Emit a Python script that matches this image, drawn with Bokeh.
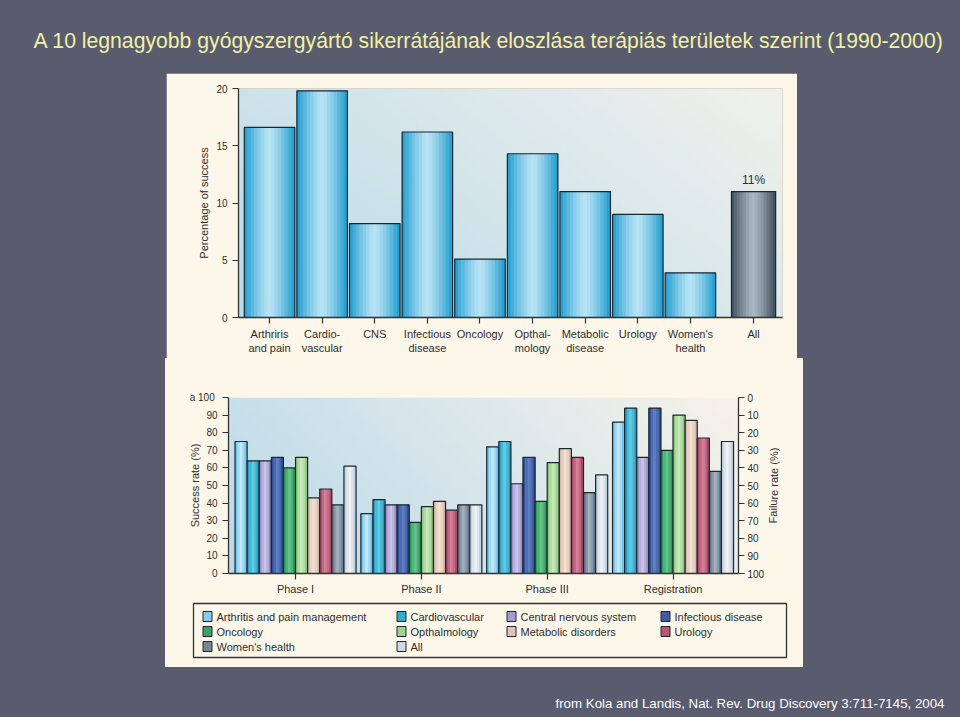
import numpy as np
from bokeh.plotting import figure
from bokeh.layouts import row, column
from bokeh.models import Range1d, LinearAxis, FixedTicker
from bokeh.embed import file_html
from bokeh.resources import INLINE
from bokeh.core.properties import value

# ---------------- data ----------------
title_text = "A 10 legnagyobb gyógyszergyártó sikerrátájának eloszlása terápiás területek szerint  (1990-2000)"
source_text = "from Kola and Landis, Nat. Rev. Drug Discovery 3:711-7145, 2004"

areas = ["Arthriris\nand pain", "Cardio-\nvascular", "CNS", "Infectious\ndisease", "Oncology",
         "Opthal-\nmology", "Metabolic\ndisease", "Urology", "Women's\nhealth", "All"]
success_pct = [16.6, 19.8, 8.2, 16.2, 5.1, 14.3, 11.0, 9.0, 3.9, 11.0]
all_label = "11%"
top_yticks = [0, 5, 10, 15, 20]

phases = ["Phase I", "Phase II", "Phase III", "Registration"]
series = ["Arthritis and pain management", "Cardiovascular", "Central nervous system",
          "Infectious disease", "Oncology", "Opthalmology", "Metabolic disorders",
          "Urology", "Women's health", "All"]
phase1 = [75, 64, 64, 66, 60, 66, 43, 48, 39, 61]
phase2 = [34, 42, 39, 39, 29, 38, 41, 36, 39, 39]
phase3 = [72, 75, 51, 66, 41, 63, 71, 66, 46, 56]
registration = [86, 94, 66, 94, 70, 90, 87, 77, 58, 75]
rate_ticks = [0, 10, 20, 30, 40, 50, 60, 70, 80, 90, 100]
panel_letter = "a"
failure_label = "Failure rate (%)"

# ---------------- style ----------------
SLATE = "#595c6e"
CREAM = "#fdf7ea"
FONT = "Liberation Sans"
TXT = "#2e2e2e"
OUT = "#1c2630"

series_edge = ["#58b6df", "#1191b6", "#877cbc", "#22418a", "#18894e",
               "#7dbf6e", "#d2ad9c", "#9e3858", "#546678", "#b6c6d6"]
series_center = ["#c4e8f7", "#62cbe2", "#cbc4e8", "#5e7dc3", "#62c486",
                 "#c8eab8", "#f3e0d4", "#d57e96", "#a0b0be", "#eef2f6"]


def hx(c):
    return tuple(int(c[i:i + 2], 16) for i in (1, 3, 5))


def mix(a, b, t):
    ra, rb = hx(a), hx(b)
    return "#%02x%02x%02x" % tuple(int(round(ra[i] + (rb[i] - ra[i]) * t)) for i in range(3))


def grad_img(c_left, c_right, nx=64, ny=32, diag=0.3):
    X, Y = np.meshgrid(np.linspace(0, 1, nx), np.linspace(0, 1, ny))
    t = np.clip((1 - diag) * X + diag * Y, 0, 1)[..., None]
    c1 = np.array(hx(c_left), dtype=float)
    c2 = np.array(hx(c_right), dtype=float)
    rgb = c1 * (1 - t) + c2 * t
    img = np.empty((ny, nx), dtype=np.uint32)
    v = img.view(dtype=np.uint8).reshape((ny, nx, 4))
    v[..., :3] = rgb.astype(np.uint8)
    v[..., 3] = 255
    return img


def base_fig(w, h, xr, yr, bg=SLATE, border=SLATE, axes=False, **kw):
    opts = dict(width=w, height=h, x_range=xr, y_range=yr, toolbar_location=None,
                output_backend="svg", background_fill_color=bg, border_fill_color=border,
                outline_line_color=None)
    if not axes:
        opts.update(x_axis_location=None, y_axis_location=None, min_border=0)
    opts.update(kw)
    p = figure(**opts)
    p.grid.visible = False
    try:
        p.frame_align = False
    except Exception:
        pass
    return p


def spacer(w, h):
    return base_fig(w, h, Range1d(0, 1), Range1d(0, 1))


def style_axis(ax, size="11px"):
    ax.axis_line_color = "#333333"
    ax.axis_line_width = 1.3
    ax.major_tick_line_color = "#333333"
    ax.major_tick_line_width = 1.2
    ax.major_tick_out = 6
    ax.major_tick_in = 0
    ax.minor_tick_out = 0
    ax.minor_tick_in = 0
    ax.major_label_text_font = FONT
    ax.major_label_text_font_size = size
    ax.major_label_text_color = TXT
    ax.axis_label_text_font = FONT
    ax.axis_label_text_font_size = "11px"
    ax.axis_label_text_font_style = "normal"
    ax.axis_label_text_color = TXT


def gradient_bars(p, xs, tops, width, edges, centers, k=11):
    for i in range(k):
        off = (i + 0.5) / k - 0.5
        t = min(1.0, abs(off) * 2) ** 1.3
        cols = [mix(c, e, t) for c, e in zip(centers, edges)]
        wv = [w / k * 1.15 for w in width]
        p.vbar(x=[x + off * w for x, w in zip(xs, width)], top=tops, width=wv,
               fill_color=cols, line_color=None)
    p.vbar(x=xs, top=tops, width=width, fill_color=None, line_color=OUT, line_width=1.2)


# ---------------- title ----------------
title_fig = base_fig(960, 73, Range1d(0, 960), Range1d(73, 0))
title_fig.text(x=[33], y=[40], text=[title_text], text_font=value(FONT),
               text_font_size="21.2px", text_color="#f2f0a4", text_baseline="middle")

# ---------------- top chart ----------------
bar_pos = list(range(9)) + [9.2]
bar_w = [0.96] * 9 + [0.84]
top = base_fig(631, 285, Range1d(-0.59, 9.75), Range1d(0, 20), bg=CREAM, border=CREAM, axes=True,
               min_border_left=72, min_border_right=15, min_border_top=15, min_border_bottom=41)
xr, yr = top.x_range, top.y_range
top.image_rgba(image=[grad_img("#b9dbea", "#f1f1ec", diag=0.35)], x=xr.start, y=yr.start,
               dw=xr.end - xr.start, dh=yr.end - yr.start)
gradient_bars(top, bar_pos, success_pct, bar_w,
              ["#1c9bcf"] * 9 + ["#3c4956"], ["#b8e3f4"] * 9 + ["#a9b7c2"], k=15)
top.text(x=[bar_pos[-1]], y=[success_pct[-1]], text=[all_label], text_align="center",
         text_baseline="bottom", y_offset=-5, text_font=value(FONT), text_font_size="12px",
         text_color=TXT)
ya = top.yaxis[0]
style_axis(ya, "10px")
ya.ticker = FixedTicker(ticks=top_yticks)
ya.axis_label = "Percentage of success"
ya.axis_label_standoff = 3
xa = top.xaxis[0]
style_axis(xa)
xa.ticker = FixedTicker(ticks=bar_pos)
xa.major_label_overrides = {p: lab for p, lab in zip(bar_pos, areas)}
xa.major_label_standoff = 4

# ---------------- bottom chart ----------------
G = 10.4
bot = base_fig(603, 242, Range1d(-5.54, 36.61), Range1d(0, 100), bg=CREAM, border=CREAM, axes=True,
               min_border_left=63, min_border_right=30, min_border_top=39, min_border_bottom=27)
bot.extra_y_ranges = {"fail": Range1d(100, 0)}
bxr, byr = bot.x_range, bot.y_range
bot.image_rgba(image=[grad_img("#b9daea", "#f6f2ea", diag=0.25)], x=bxr.start, y=byr.start,
               dw=bxr.end - bxr.start, dh=byr.end - byr.start)
phase_vals = [phase1, phase2, phase3, registration]
for j in range(len(series)):
    xs = [g * G + (j - 4.5) for g in range(len(phases))]
    vals = [pv[j] for pv in phase_vals]
    gradient_bars(bot, xs, vals, [1.0] * len(xs), [series_edge[j]] * len(xs),
                  [series_center[j]] * len(xs), k=5)
ly = bot.yaxis[0]
style_axis(ly, "10px")
ly.ticker = FixedTicker(ticks=rate_ticks)
ly.major_label_overrides = {100: panel_letter + "  100"}
ly.axis_label = "Success rate (%)"
ly.axis_label_standoff = -14
bx = bot.xaxis[0]
style_axis(bx)
bx.ticker = FixedTicker(ticks=[g * G for g in range(len(phases))])
bx.major_label_overrides = {g * G: ph for g, ph in enumerate(phases)}
bx.major_label_standoff = 3
ra = LinearAxis(y_range_name="fail")
style_axis(ra, "10px")
ra.ticker = FixedTicker(ticks=rate_ticks)
ra.major_label_standoff = 3
bot.add_layout(ra, "right")

# right-hand axis title, drawn in a narrow cream strip next to the chart
rlab = base_fig(35, 242, Range1d(0, 35), Range1d(242, 0), bg=CREAM, border=CREAM)
rlab.text(x=[5], y=[127], text=[failure_label], angle=1.5707963, text_align="center",
          text_baseline="middle", text_font=value(FONT), text_font_size="11px", text_color=TXT)

# ---------------- legend panel ----------------
leg = base_fig(638, 67, Range1d(0, 638), Range1d(67, 0), bg=CREAM, border=CREAM)
leg.quad(left=[28], right=[621], top=[3], bottom=[57], fill_color=None,
         line_color="#333333", line_width=1.3)
col_x = [37, 231, 341, 495]
row_y = [16, 31, 46]
for i, name in enumerate(series):
    sx, sy = col_x[i % 4], row_y[i // 4]
    leg.rect(x=[sx + 5], y=[sy], width=[9], height=[10],
             fill_color=mix(series_center[i], series_edge[i], 0.55), line_color=OUT, line_width=1)
    leg.text(x=[sx + 14], y=[sy], text=[name], text_baseline="middle", text_font=value(FONT),
             text_font_size="11px", text_color=TXT)

# ---------------- citation ----------------
cite = base_fig(960, 50, Range1d(0, 960), Range1d(50, 0))
cite.text(x=[944], y=[36], text=[source_text], text_align="right", text_baseline="middle",
          text_font=value(FONT), text_font_size="13.3px", text_color="#ffffff")

# ---------------- layout ----------------
bg = {"background-color": SLATE}
cream = {"background-color": CREAM}
layout = column(
    title_fig,
    row(spacer(166, 285), top, spacer(163, 285), styles=bg),
    row(spacer(165, 309), column(row(bot, rlab, styles=cream), leg, styles=cream), spacer(157, 309),
        styles=bg),
    cite,
    styles=bg,
)

open("out.html", "w").write(file_html(layout, INLINE))
